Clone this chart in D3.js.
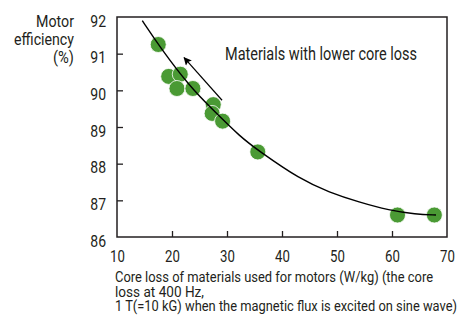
<!DOCTYPE html>
<meta charset="utf-8">
<style>
body { margin: 0; background: #fff; }
svg text { font-family: Roboto, "Liberation Sans", sans-serif; fill: #231f20; }
.axis path { display: none; }
.axis line { stroke: #231f20; stroke-width: 1.3; }
</style>
<body>
<svg width="464" height="325"></svg>
<script src="https://d3js.org/d3.v7.min.js"></script>
<script>

// measured points (core loss W/kg, motor efficiency %)
var coreLoss   = [17.5, 19.4, 21.5, 20.9, 23.8, 27.5, 27.3, 29.2, 35.6, 61.0, 67.7];
var efficiency = [91.25, 90.38, 90.44, 90.05, 90.05, 89.61, 89.37, 89.16, 88.32, 86.6, 86.6];

// trend curve
var curveX = [14.6, 17.8, 23.3, 27.5, 32.5, 35.6, 43.3, 48.6, 54.0, 59.5, 64.3, 68.0];
var curveY = [91.9, 91.18, 90.09, 89.46, 88.72, 88.37, 87.57, 87.22, 86.95, 86.73, 86.62, 86.6];

var xTicks = [10, 20, 30, 40, 50, 60, 70];
var yTicks = [86, 87, 88, 89, 90, 91, 92];

var yTitleLines = ["Motor", "efficiency", "(%)"];
var xTitleLines = ["Core loss of materials used for motors (W/kg) (the core",
                   "loss at 400 Hz,",
                   "1 T(=10 kG) when the magnetic flux is excited on sine wave)"];
var note = "Materials with lower core loss";

var svg = d3.select("svg");

var x = d3.scaleLinear().domain([10, 70]).range([117, 447]);
var y = d3.scaleLinear().domain([86, 92]).range([237, 17]);

// squeeze text to look like a condensed face
function condense(sel, k) {
  sel.each(function() {
    var w = this.getComputedTextLength();
    d3.select(this).attr("textLength", w * k).attr("lengthAdjust", "spacingAndGlyphs");
  });
}

// frame
svg.append("rect")
    .attr("x", x(10)).attr("y", y(92))
    .attr("width", x(70) - x(10)).attr("height", y(86) - y(92))
    .attr("fill", "none").attr("stroke", "#231f20").attr("stroke-width", 1.5);

var xAxis = svg.append("g")
    .attr("class", "axis")
    .attr("transform", "translate(0," + y(86) + ")")
    .call(d3.axisBottom(x).tickValues(xTicks).tickFormat(d3.format("d"))
      .tickSizeInner(-6).tickSizeOuter(0).tickPadding(0));
xAxis.selectAll("line").filter(function(d) { return d === 10 || d === 70; }).remove();
xAxis.selectAll("text")
    .attr("font-family", null).attr("font-size", null).attr("fill", null)
    .attr("y", 25).attr("dy", null)
    .style("font-size", "16.5px")
    .call(condense, 0.8);

var yAxis = svg.append("g")
    .attr("class", "axis")
    .attr("transform", "translate(" + x(10) + ",0)")
    .call(d3.axisLeft(y).tickValues(yTicks).tickFormat(d3.format("d"))
      .tickSizeInner(-6).tickSizeOuter(0).tickPadding(11));
yAxis.selectAll("line").filter(function(d) { return d === 86 || d === 92; }).remove();
yAxis.selectAll("text")
    .attr("font-family", null).attr("font-size", null).attr("fill", null)
    .attr("dy", 9)
    .style("font-size", "16.5px")
    .call(condense, 0.85);

// dots
var pts = coreLoss.map(function(v, i) { return [v, efficiency[i]]; });
svg.selectAll(".dot")
    .data(pts)
  .enter().append("circle")
    .attr("class", "dot")
    .attr("cx", function(d) { return x(d[0]); })
    .attr("cy", function(d) { return y(d[1]); })
    .attr("r", 8)
    .attr("fill", "#4a9a34")
    .attr("stroke", "#fff")
    .attr("stroke-width", 0.8);

// trend line
var line = d3.line()
    .x(function(d) { return x(d[0]); })
    .y(function(d) { return y(d[1]); })
    .curve(d3.curveBasis);
svg.append("path")
    .datum(curveX.map(function(v, i) { return [v, curveY[i]]; }))
    .attr("d", line)
    .attr("fill", "none")
    .attr("stroke", "#000")
    .attr("stroke-width", 1.4);

// annotation arrow
svg.append("defs").append("marker")
    .attr("id", "head")
    .attr("viewBox", "0 0 10 10")
    .attr("refX", 9).attr("refY", 5)
    .attr("markerWidth", 10).attr("markerHeight", 8)
    .attr("markerUnits", "userSpaceOnUse")
    .attr("orient", "auto")
  .append("path")
    .attr("d", "M0,0 L10,5 L0,10 L2,5 Z")
    .attr("fill", "#000");

svg.append("line")
    .attr("x1", x(29.1)).attr("y1", y(89.73))
    .attr("x2", x(22.2)).attr("y2", y(90.89))
    .attr("stroke", "#000").attr("stroke-width", 1.2)
    .attr("marker-end", "url(#head)");

svg.append("text")
    .attr("x", 225).attr("y", 60)
    .style("font-size", "18px")
    .attr("textLength", 192).attr("lengthAdjust", "spacingAndGlyphs")
    .text(note);

// y title
var yWidths = [38, 60, 21];
yTitleLines.forEach(function(t, i) {
  svg.append("text")
      .attr("x", 74 - yWidths[i]).attr("y", 27.3 + i * 18)
      .style("font-size", "17px")
      .attr("textLength", yWidths[i]).attr("lengthAdjust", "spacingAndGlyphs")
      .text(t);
});

// x title
var xWidths = [318, 89, 342];
xTitleLines.forEach(function(t, i) {
  svg.append("text")
      .attr("x", 115).attr("y", 282 + i * 14.5)
      .style("font-size", "15.5px")
      .attr("textLength", xWidths[i]).attr("lengthAdjust", "spacingAndGlyphs")
      .text(t);
});

</script>
</body>
